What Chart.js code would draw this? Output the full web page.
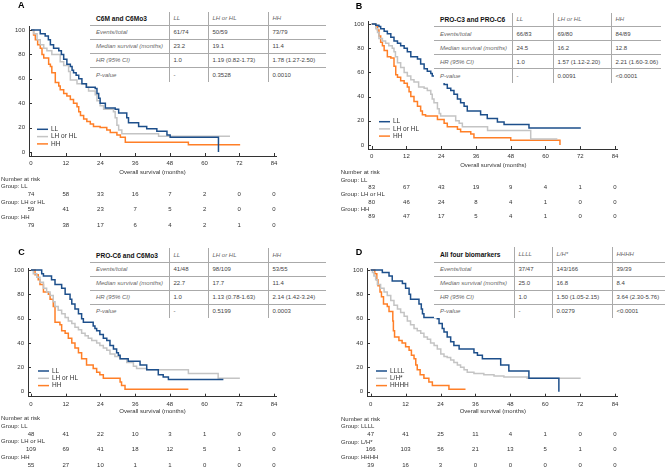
<!DOCTYPE html>
<html>
<head>
<meta charset="utf-8">
<script src="https://cdn.jsdelivr.net/npm/chart.js@4.4.1/dist/chart.umd.min.js"></script>
<style>
  body { margin: 0; background: #fff; }
  #page { position: relative; width: 668px; height: 470px; overflow: hidden; font-family: "Liberation Sans", Arial, sans-serif; }
  .panel { position: absolute; width: 334px; height: 235px; }
  .panel canvas { position: absolute; left: 0; top: 0; }
  .letter { position: absolute; font-weight: bold; font-size: 9px; line-height: 9px; color: #000; }
  table.km { position: absolute; border-collapse: collapse; table-layout: fixed; background: #fff; font-size: 6px; color: #444; }
  table.km td { padding: 1px 0 0 4px; white-space: nowrap; overflow: hidden; border-left: 1px solid #aaa; border-bottom: 1px solid #aaa; vertical-align: middle; line-height: 7px; }
  table.km td:first-child { border-left: none; padding-left: 6px; }
  table.km tr:first-child td { border-bottom: 1.5px solid #555; }
  table.km tr:last-child td { border-bottom: none; }
  table.km .hd { font-weight: bold; font-size: 6.6px; color: #111; }
  table.km .it { font-style: italic; color: #666; }
</style>
</head>
<body>
<div id="page"></div>
<script>
// ---- data ----
const MONTH_TICKS = [0, 12, 24, 36, 48, 60, 72, 84];
const SURV_TICKS = [0, 20, 40, 60, 80, 100];
const ROW_LABELS = ['Events/total', 'Median survival (months)', 'HR (95% CI)', 'P-value'];

// panel A: C6M and C6Mo3  ([months, % surviving])
const A_GROUPS = ['LL', 'LH or HL', 'HH'];
const A_LL = [[0,100],[3.2,97],[4.9,95],[6,92],[6.7,88],[7.8,85],[9.6,83],[10.5,80],[11.3,76],[12.4,72],[13.6,70],[14.2,67],[14.7,65],[15.6,63],[16.5,60],[17.6,56],[19.1,53],[22.2,52],[22.8,48],[23.4,44],[23.9,40],[25.7,36],[29.1,35],[30.3,32],[33.1,28],[33.7,24],[37.2,21],[40,19],[43.5,17],[47,14],[48.1,12],[64.8,0]];
const A_LH = [[0,100],[0.9,97],[2.1,92],[3.2,88],[4.4,85],[5.5,83],[7.2,80],[10.1,74],[11.3,71],[13,66],[13.6,59],[15.9,56],[19.3,53],[19.9,50],[22.2,47],[22.8,42],[23.9,38],[25.1,35],[28.5,33],[29.1,28],[29.7,22],[30.3,18],[31.4,15],[44.1,13],[68.8,13]];
const A_HH = [[0,100],[0.9,96],[1.5,92],[2.3,88],[3.2,85],[3.8,80],[4.4,77],[6.1,72],[6.7,70],[7.2,65],[8.4,57],[9.6,54],[10.1,51],[11.3,48],[12.4,46],[13.6,43],[14.7,40],[15.9,37],[16.5,33],[17.1,30],[18.2,27],[19.3,25],[20.5,23],[21.6,21],[23.9,20],[26.2,18],[27.4,16],[29.7,14],[30.9,12],[32.6,8],[54.4,6],[72.3,6]];
const A_RISK = [[74,58,33,16,7,2,0,0],[59,41,23,7,5,2,0,0],[79,38,17,6,4,2,1,0]];
const A_HEAD = ['C6M and C6Mo3', 'LL', 'LH or HL', 'HH'];
const A_EVENTS = ['61/74', '50/59', '73/79'];
const A_MEDIAN = ['23.2', '19.1', '11.4'];
const A_HR = ['1.0', '1.19 (0.82-1.73)', '1.78 (1.27-2.50)'];
const A_P = ['-', '0.3528', '0.0010'];

// panel B: PRO-C3 and PRO-C6
const B_GROUPS = ['LL', 'LH or HL', 'HH'];
const B_LL = [[0,100],[1.4,99],[2.5,98],[3.1,96],[4.3,94],[5.4,92],[6.6,89],[7.7,86],[8.9,84],[10,82],[11.2,80],[12.3,77],[13.5,73],[15.8,71],[16.9,67],[18.1,63],[19.2,61],[20.4,59],[20.9,57],[23.8,52],[25,50],[26.1,47],[27.3,45],[28.4,42],[29.6,38],[30.7,35],[31.9,32],[33,28],[37.6,25],[39.9,22],[43.4,19],[45.7,17],[54.3,14],[72.2,14]];
const B_LH = [[0,100],[1.4,96],[2,93],[2.5,88],[3.7,86],[4.8,84],[5.9,82],[7.1,80],[7.7,77],[8.2,73],[8.9,68],[10,64],[11.2,60],[12.3,57],[13.5,54],[14.6,52],[16.2,48],[18.1,47],[19.2,45],[20.4,42],[20.9,38],[21.5,35],[22.7,30],[23.3,26],[23.8,24],[29,20],[30.2,18],[31.3,15],[40,12],[54.9,5],[64.1,5]];
const B_HH = [[0,100],[1.4,98],[2,95],[2.5,90],[3.1,85],[3.7,82],[4.3,78],[5.4,73],[6.6,72],[7.7,65],[8.3,58],[8.9,56],[10,53],[11.2,51],[12.3,48],[12.9,44],[13.5,40],[14.6,36],[15.8,32],[16.9,28],[17.5,25],[18.6,24],[22.7,21],[25,18],[26.1,15],[29.6,13],[30.7,11],[34.2,9],[35.3,6],[48,4],[65,0]];
const B_RISK = [[83,67,43,19,9,4,1,0],[80,46,24,8,4,1,0,0],[89,47,17,5,4,1,0,0]];
const B_HEAD = ['PRO-C3 and PRO-C6', 'LL', 'LH or HL', 'HH'];
const B_EVENTS = ['66/83', '69/80', '84/89'];
const B_MEDIAN = ['24.5', '16.2', '12.8'];
const B_HR = ['1.0', '1.57 (1.12-2.20)', '2.21 (1.60-3.06)'];
const B_P = ['-', '0.0091', '<0.0001'];

// panel C: PRO-C6 and C6Mo3
const C_GROUPS = ['LL', 'LH or HL', 'HH'];
const C_LL = [[0,100],[3.7,97],[4.3,95],[7.1,92],[8.3,88],[10.6,85],[11.8,80],[13.5,76],[14.1,72],[15.2,68],[16.4,64],[17.5,60],[18.1,57],[21.5,54],[22.1,52],[22.7,50],[23.8,47],[25,44],[26.2,42],[27.3,38],[28.5,35],[29.6,32],[30.2,30],[30.8,27],[33.6,25],[37.7,22],[40,18],[44,14],[45.7,12],[47.5,10],[66.5,10]];
const C_LH = [[0,100],[0.8,97],[2,94],[3.1,90],[4.3,85],[5.4,82],[6.6,79],[7.7,74],[8.3,70],[9.4,67],[10.6,64],[11.8,61],[12.9,58],[14.1,56],[15.2,53],[16.4,51],[17.5,48],[18.7,46],[19.8,44],[21,42],[22.7,40],[23.8,38],[25,36],[26.2,34],[27.3,31],[29,29],[30.8,27],[33.1,24],[35.4,21],[36.5,19],[40,18],[54.4,15],[64.7,11],[72.2,11]];
const C_HH = [[0,100],[1.4,96],[2.5,92],[3.1,88],[4.3,82],[6,80],[6.6,76],[7.7,70],[8.3,57],[10,55],[10.6,50],[11.8,48],[12.9,44],[14.1,40],[15.2,36],[16.4,32],[17.5,27],[19.2,22],[21.5,19],[22.7,16],[23.8,14],[25,11],[30.8,8],[31.3,5],[32.5,2],[54.4,2]];
const C_RISK = [[48,41,22,10,3,1,0,0],[109,69,41,18,12,5,1,0],[55,27,10,1,1,0,0,0]];
const C_HEAD = ['PRO-C6 and C6Mo3', 'LL', 'LH or HL', 'HH'];
const C_EVENTS = ['41/48', '98/109', '53/55'];
const C_MEDIAN = ['22.7', '17.7', '11.4'];
const C_HR = ['1.0', '1.13 (0.78-1.63)', '2.14 (1.42-3.24)'];
const C_P = ['-', '0.5199', '0.0003'];

// panel D: all four biomarkers
const D_GROUPS = ['LLLL', 'L/H*', 'HHHH'];
const D_LL = [[0,100],[4,98],[6.3,95],[7.4,91],[10.9,89],[12,85],[13.2,80],[13.7,76],[16.6,72],[17.4,68],[17.8,64],[18.3,61],[22.9,60],[23.5,56],[24.6,52],[25.2,49],[26.3,45],[27.5,41],[28.6,38],[30.4,35],[35.5,32],[36.7,30],[38.4,27],[44.7,22],[47.5,17],[54.4,11],[64.7,0]];
const D_LH = [[0,100],[0.6,98],[1.1,95],[1.7,92],[2.3,88],[3.4,85],[4.6,82],[5.7,79],[6.9,75],[8,71],[9.2,68],[10.3,65],[11.5,62],[12.6,58],[13.7,55],[14.9,52],[16,50],[17.2,48],[18.3,45],[19.5,43],[20.6,40],[21.8,38],[22.9,35],[24.1,31],[25.2,29],[26.3,28],[27.5,26],[28.6,24],[29.8,22],[30.9,20],[32.1,18],[33.2,16],[35.5,15],[38.9,14],[42.4,13],[45.8,12],[53.8,11],[72.2,11]];
const D_HH = [[0,100],[1.4,97],[2.1,92],[2.5,87],[3.2,82],[3.7,78],[4.4,72],[5.7,70],[6.3,66],[7.6,58],[7.8,50],[8.2,45],[9.7,42],[10.8,40],[12,37],[13.2,34],[14,30],[14.9,27],[15.5,22],[16,18],[17,14],[18.3,11],[20,8],[21.2,5],[26.9,2],[32.6,2]];
const D_RISK = [[47,41,25,11,4,1,0,0],[166,103,56,21,13,5,1,0],[39,16,3,0,0,0,0,0]];
const D_HEAD = ['All four biomarkers', 'LLLL', 'L/H*', 'HHHH'];
const D_EVENTS = ['37/47', '143/166', '39/39'];
const D_MEDIAN = ['25.0', '16.8', '8.4'];
const D_HR = ['1.0', '1.50 (1.05-2.15)', '3.64 (2.30-5.76)'];
const D_P = ['-', '0.0279', '<0.0001'];

const COLORS = ['#1d4f8b', '#c4c4c4', '#ff7f27'];
const FONT = '"Liberation Sans", Arial, sans-serif';

// ---- layout of each panel (local px inside a 334x235 box) ----
const panels = [
  { letter: 'A', left: 0, top: 0, lx: 18, ly: 0.5,
    yAxis: 29, x0: 31, x84: 274, y100: 30, y0: 152, xAxis: 156, axTop: 26.5,
    legend: { x: 37, y: 129.3, step: 7.3 }, titleY: 172.7, risk: { x: 1, y: 179, step: 7.67 },
    table: { left: 90, top: 12, widths: [79, 39, 60, 58], heights: [13, 14, 14, 14, 15] },
    groups: A_GROUPS, series: [A_LL, A_LH, A_HH], counts: A_RISK,
    head: A_HEAD, cols: [A_EVENTS, A_MEDIAN, A_HR, A_P] },
  { letter: 'B', left: 334, top: 0, lx: 21.7, ly: 2.1,
    yAxis: 34, x0: 37.7, x84: 281, y100: 24, y0: 145, xAxis: 149, axTop: 21.7,
    legend: { x: 45, y: 121.7, step: 7.2 }, titleY: 165, risk: { x: 6.7, y: 172.7, step: 7.35 },
    table: { left: 100, top: 12.5, widths: [78, 41, 58, 50], heights: [14, 14, 14, 14, 14] },
    groups: B_GROUPS, series: [B_LL, B_LH, B_HH], counts: B_RISK,
    head: B_HEAD, cols: [B_EVENTS, B_MEDIAN, B_HR, B_P] },
  { letter: 'C', left: 0, top: 235, lx: 18.3, ly: 12.8,
    yAxis: 28, x0: 31, x84: 274, y100: 35, y0: 156.7, xAxis: 161.7, axTop: 33.3,
    legend: { x: 38, y: 136, step: 7.3 }, titleY: 176.7, risk: { x: 1, y: 183.3, step: 7.78 },
    table: { left: 90, top: 13, widths: [79, 39, 60, 58], heights: [14, 14, 14, 14, 14] },
    groups: C_GROUPS, series: [C_LL, C_LH, C_HH], counts: C_RISK,
    head: C_HEAD, cols: [C_EVENTS, C_MEDIAN, C_HR, C_P] },
  { letter: 'D', left: 334, top: 235, lx: 21.7, ly: 12.8,
    yAxis: 33, x0: 36.7, x84: 281, y100: 35, y0: 156.7, xAxis: 161.7, axTop: 33.3,
    legend: { x: 42, y: 136, step: 7.3 }, titleY: 176.7, risk: { x: 7, y: 184, step: 7.67 },
    table: { left: 100, top: 12, widths: [80, 38, 60, 53], heights: [15, 14, 14, 14, 14] },
    groups: D_GROUPS, series: [D_LL, D_LH, D_HH], counts: D_RISK,
    head: D_HEAD, cols: [D_EVENTS, D_MEDIAN, D_HR, D_P] }
];

// inward tick marks, legend, axis title and number-at-risk rows
function decor(p) {
  return {
    id: 'kmDecor',
    afterDraw(chart) {
      const ctx = chart.ctx, ca = chart.chartArea;
      const x = chart.scales.x, y = chart.scales.y;
      ctx.save();
      ctx.strokeStyle = '#333';
      ctx.lineWidth = 1;
      ctx.beginPath();
      MONTH_TICKS.forEach(function (v) {
        const px = Math.round(x.getPixelForValue(v)) + 0.5;
        ctx.moveTo(px, ca.bottom); ctx.lineTo(px, ca.bottom - 3);
      });
      SURV_TICKS.forEach(function (v) {
        const py = Math.round(y.getPixelForValue(v)) + 0.5;
        ctx.moveTo(ca.left, py); ctx.lineTo(ca.left + 3, py);
      });
      ctx.stroke();

      ctx.font = '6.5px ' + FONT;
      ctx.textBaseline = 'middle';
      ctx.textAlign = 'left';
      chart.data.datasets.forEach(function (ds, i) {
        const ly = p.legend.y + i * p.legend.step;
        ctx.strokeStyle = ds.borderColor;
        ctx.lineWidth = 1.5;
        ctx.beginPath(); ctx.moveTo(p.legend.x, ly); ctx.lineTo(p.legend.x + 11, ly); ctx.stroke();
        ctx.fillStyle = '#333';
        ctx.fillText(ds.label, p.legend.x + 14, ly);
      });

      ctx.font = '6px ' + FONT;
      ctx.fillStyle = '#333';
      ctx.textAlign = 'center';
      ctx.fillText('Overall survival (months)', (x.getPixelForValue(0) + x.getPixelForValue(84)) / 2, p.titleY);

      let ry = p.risk.y;
      ctx.textAlign = 'left';
      ctx.fillText('Number at risk', p.risk.x, ry);
      p.groups.forEach(function (name, i) {
        ry += p.risk.step;
        ctx.textAlign = 'left';
        ctx.fillText('Group: ' + name, p.risk.x, ry);
        ry += p.risk.step;
        ctx.textAlign = 'center';
        p.counts[i].forEach(function (n, j) {
          ctx.fillText(String(n), x.getPixelForValue(MONTH_TICKS[j]), ry);
        });
      });
      ctx.restore();
    }
  };
}

function buildTable(box, p) {
  const t = document.createElement('table');
  t.className = 'km';
  const g = p.table;
  t.style.left = g.left + 'px';
  t.style.top = g.top + 'px';
  t.style.width = g.widths.reduce(function (a, b) { return a + b; }, 0) + 'px';
  const cg = document.createElement('colgroup');
  g.widths.forEach(function (w) {
    const c = document.createElement('col');
    c.style.width = w + 'px';
    cg.appendChild(c);
  });
  t.appendChild(cg);
  const rows = [p.head].concat(ROW_LABELS.map(function (lab, i) { return [lab].concat(p.cols[i]); }));
  rows.forEach(function (cells, r) {
    const tr = document.createElement('tr');
    tr.style.height = g.heights[r] + 'px';
    cells.forEach(function (txt, c) {
      const td = document.createElement('td');
      td.textContent = txt;
      if (r === 0 && c === 0) td.className = 'hd';
      else if (r === 0 || c === 0) td.className = 'it';
      tr.appendChild(td);
    });
    t.appendChild(tr);
  });
  box.appendChild(t);
}

const page = document.getElementById('page');
panels.forEach(function (p) {
  const box = document.createElement('div');
  box.className = 'panel';
  box.style.left = p.left + 'px';
  box.style.top = p.top + 'px';
  page.appendChild(box);

  const cv = document.createElement('canvas');
  cv.width = 334; cv.height = 235;
  box.appendChild(cv);

  const xPer = (p.x84 - p.x0) / 84;
  const yPer = (p.y0 - p.y100) / 100;
  const xMin = (p.yAxis - p.x0) / xPer;
  const xMax = 85;
  const yMin = (p.y0 - p.xAxis) / yPer;
  const yMax = 100 + (p.y100 - p.axTop) / yPer;
  const right = p.x0 + xMax * xPer;
  const xH = 20;

  new Chart(cv, {
    type: 'line',
    data: {
      datasets: p.series.map(function (s, i) {
        return {
          label: p.groups[i],
          data: s.map(function (d) { return { x: d[0], y: d[1] }; }),
          borderColor: COLORS[i],
          backgroundColor: COLORS[i],
          borderWidth: 1.5,
          stepped: true,
          pointRadius: 0,
          fill: false
        };
      })
    },
    options: {
      responsive: false,
      animation: false,
      devicePixelRatio: 1,
      layout: { padding: { left: 0, top: p.axTop, right: 334 - right, bottom: 235 - xH - p.xAxis } },
      plugins: { legend: { display: false }, tooltip: { enabled: false } },
      scales: {
        x: {
          type: 'linear', min: xMin, max: xMax,
          afterFit: function (s) { s.height = xH; },
          afterBuildTicks: function (s) { s.ticks = MONTH_TICKS.map(function (v) { return { value: v }; }); },
          grid: { display: false, drawTicks: false },
          border: { display: true, color: '#333', width: 1 },
          ticks: { autoSkip: false, maxRotation: 0, padding: 4, color: '#333', font: { family: FONT, size: 6 } }
        },
        y: {
          type: 'linear', min: yMin, max: yMax,
          afterFit: function (s) { s.width = p.yAxis; },
          afterBuildTicks: function (s) { s.ticks = SURV_TICKS.map(function (v) { return { value: v }; }); },
          grid: { display: false, drawTicks: false },
          border: { display: true, color: '#333', width: 1 },
          ticks: { padding: 4, color: '#333', font: { family: FONT, size: 6 } }
        }
      }
    },
    plugins: [decor(p)]
  });

  buildTable(box, p);

  const l = document.createElement('div');
  l.className = 'letter';
  l.textContent = p.letter;
  l.style.left = p.lx + 'px';
  l.style.top = p.ly + 'px';
  box.appendChild(l);
});
</script>
</body>
</html>
